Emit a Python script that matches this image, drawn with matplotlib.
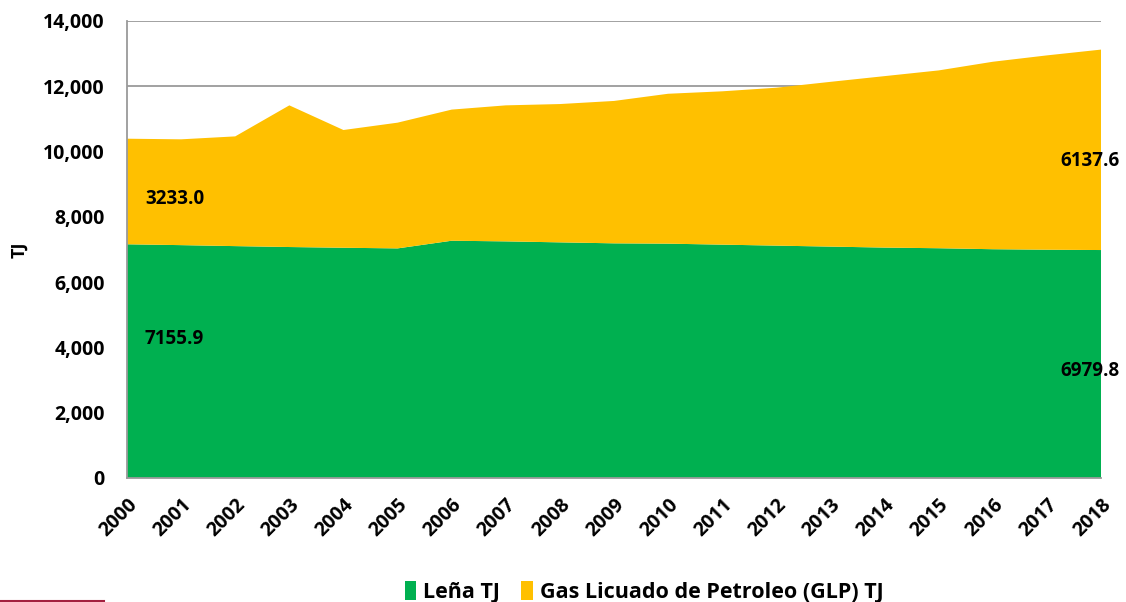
import matplotlib.pyplot as plt
from matplotlib.lines import Line2D
from matplotlib.ticker import FuncFormatter

plt.rcParams["font.family"] = ["Open Sans", "DejaVu Sans"]
plt.rcParams["font.weight"] = "bold"

years = list(range(2000, 2019))
lena = [7155.9, 7130, 7100, 7072, 7050, 7030, 7265, 7245, 7215, 7185,
        7175, 7145, 7115, 7085, 7055, 7035, 7005, 6990, 6979.8]
glp = [3233.0, 3240, 3360, 4338, 3605, 3850, 4015, 4165, 4235, 4360,
       4590, 4695, 4835, 5045, 5250, 5445, 5740, 5950, 6137.6]
series_names = ["Leña TJ", "Gas Licuado de Petroleo (GLP) TJ"]
colors = ["#00B050", "#FFC000"]

fig = plt.figure(figsize=(11.26, 6.02), dpi=100)
ax = fig.add_axes([0.1128, 0.206, 0.8650, 0.7595])

ax.stackplot(years, lena, glp, colors=colors, labels=series_names, zorder=2)

ax.set_xlim(2000, 2018)
ax.set_ylim(0, 14000)
ax.set_yticks(range(0, 14001, 2000))
ax.yaxis.set_major_formatter(FuncFormatter(lambda v, p: f"{int(v):,}"))
ax.set_xticks(years)
ax.set_xticklabels([str(y) for y in years], rotation=45, ha="right",
                   va="top", rotation_mode="anchor")
ax.grid(axis="y", color="#9a9a9a", linewidth=1.3, zorder=1)
ax.set_axisbelow(True)
ax.tick_params(axis="both", length=0, labelsize=14)
ax.tick_params(axis="y", pad=16)
ax.tick_params(axis="x", pad=12)

for side in ["top", "right"]:
    ax.spines[side].set_visible(False)
for side in ["left", "bottom"]:
    ax.spines[side].set_color("#9a9a9a")
    ax.spines[side].set_linewidth(1.3)

ax.set_ylabel("TJ", fontsize=13, fontweight="bold")
ax.yaxis.set_label_coords(-0.101, 0.5)

# data labels at the first and last year
lab = dict(fontsize=13.5, fontweight="bold", va="center")
ax.text(2000.33, 8540, f"{glp[0]:.1f}", ha="left", **lab)
ax.text(2000.33, 4260, f"{lena[0]:.1f}", ha="left", **lab)
ax.text(2018.35, 9700, f"{glp[-1]:.1f}", ha="right", **lab)
ax.text(2018.35, 3290, f"{lena[-1]:.1f}", ha="right", **lab)

fig.legend(loc="center", bbox_to_anchor=(0.572, 0.017), ncol=2, frameon=False,
           fontsize=15.5, handlelength=0.55, handleheight=1.0, handletextpad=0.3,
           columnspacing=1.0)

fig.add_artist(Line2D([0, 0.092], [0.002, 0.002], color="#a3203f", linewidth=1.5))

plt.savefig("out.png", dpi=100)
